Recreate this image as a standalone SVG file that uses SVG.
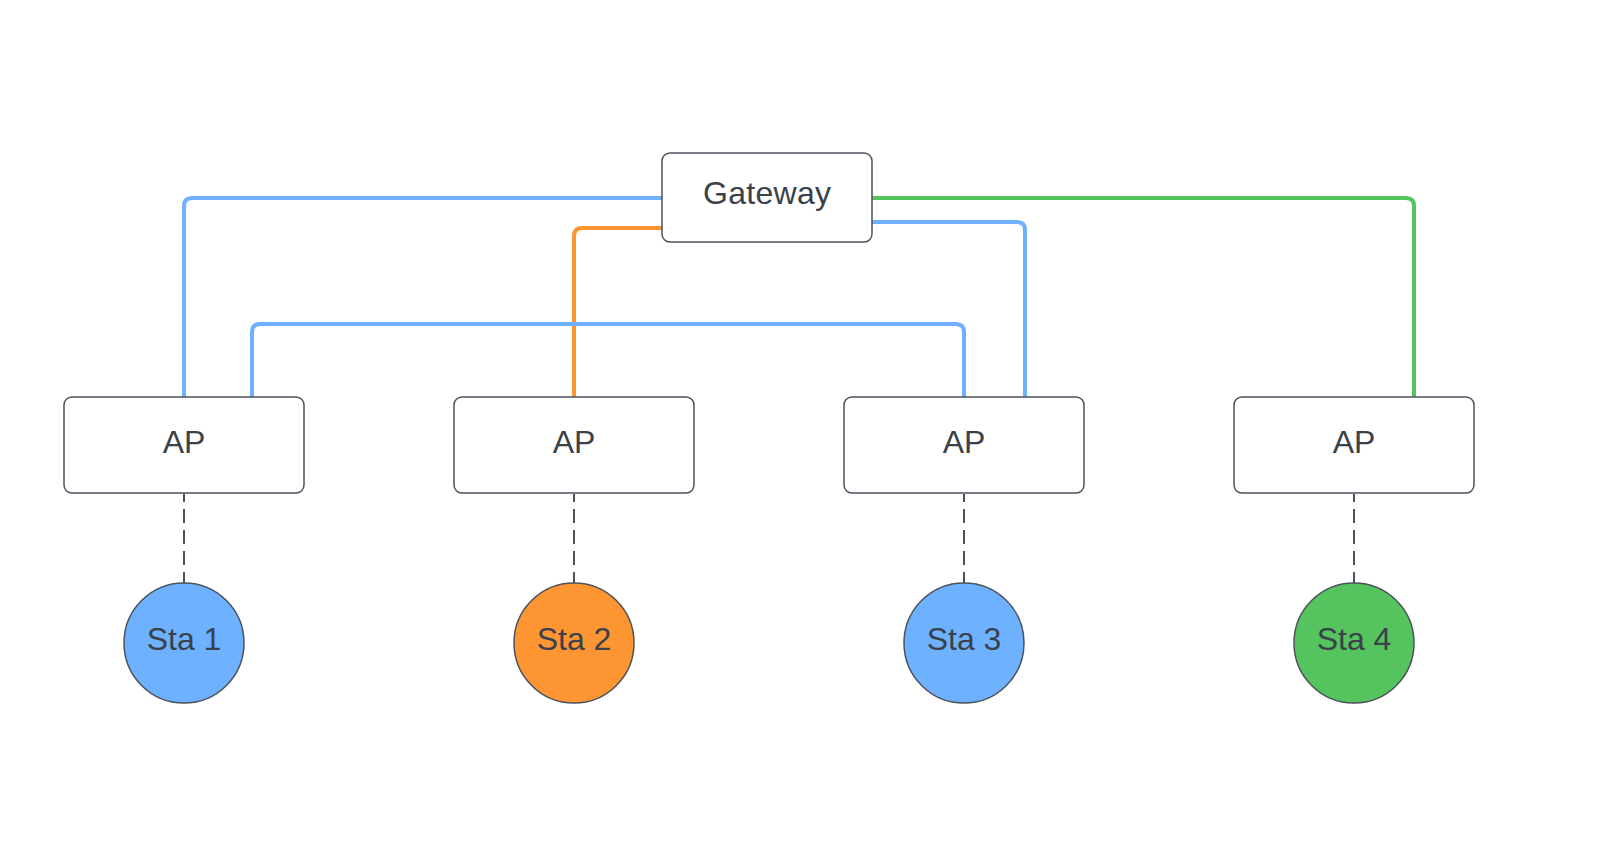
<svg xmlns="http://www.w3.org/2000/svg" width="1622" height="860" viewBox="0 0 1622 860">
<style>
.box{fill:#ffffff;stroke:#4c525c;stroke-width:1.5}
.lbl{font-family:"Liberation Sans",Arial,sans-serif;font-size:32px;fill:#3a414a;text-anchor:middle}
.sta{stroke:#4c525c;stroke-width:1.5}
.link{fill:none;stroke-width:4}
.blue{stroke:#6db1ff}
.orange{stroke:#fd9532}
.green{stroke:#55c45f}
.dash{fill:none;stroke:#4c525c;stroke-width:2;stroke-dasharray:14 7;stroke-dashoffset:6}
</style>
<rect width="1622" height="860" fill="#ffffff"/>
<g id="connectors">
<path class="link blue" d="M662,198 H192 Q184,198 184,206 V397"/>
<path class="link orange" d="M662,228 H582 Q574,228 574,236 V397"/>
<path class="link blue" d="M252,397 V332 Q252,324 260,324 H956 Q964,324 964,332 V397"/>
<path class="link blue" d="M872,222 H1017 Q1025,222 1025,230 V397"/>
<path class="link green" d="M872,198 H1406 Q1414,198 1414,206 V397"/>
<path class="dash" d="M184,494 V583"/>
<path class="dash" d="M574,494 V583"/>
<path class="dash" d="M964,494 V583"/>
<path class="dash" d="M1354,494 V583"/>
</g>
<g id="gateway">
<rect class="box" x="662" y="153" width="210" height="89" rx="8"/>
<text class="lbl" x="767" y="204" textLength="128">Gateway</text>
</g>
<g id="ap1">
<rect class="box" x="64" y="397" width="240" height="96" rx="8"/>
<text class="lbl" x="184" y="453">AP</text>
</g>
<g id="ap2">
<rect class="box" x="454" y="397" width="240" height="96" rx="8"/>
<text class="lbl" x="574" y="453">AP</text>
</g>
<g id="ap3">
<rect class="box" x="844" y="397" width="240" height="96" rx="8"/>
<text class="lbl" x="964" y="453">AP</text>
</g>
<g id="ap4">
<rect class="box" x="1234" y="397" width="240" height="96" rx="8"/>
<text class="lbl" x="1354" y="453">AP</text>
</g>
<g id="sta1">
<circle class="sta" cx="184" cy="643" r="60" fill="#6db1ff"/>
<text class="lbl" x="184" y="650">Sta 1</text>
</g>
<g id="sta2">
<circle class="sta" cx="574" cy="643" r="60" fill="#fd9532"/>
<text class="lbl" x="574" y="650">Sta 2</text>
</g>
<g id="sta3">
<circle class="sta" cx="964" cy="643" r="60" fill="#6db1ff"/>
<text class="lbl" x="964" y="650">Sta 3</text>
</g>
<g id="sta4">
<circle class="sta" cx="1354" cy="643" r="60" fill="#55c45f"/>
<text class="lbl" x="1354" y="650">Sta 4</text>
</g>
</svg>
